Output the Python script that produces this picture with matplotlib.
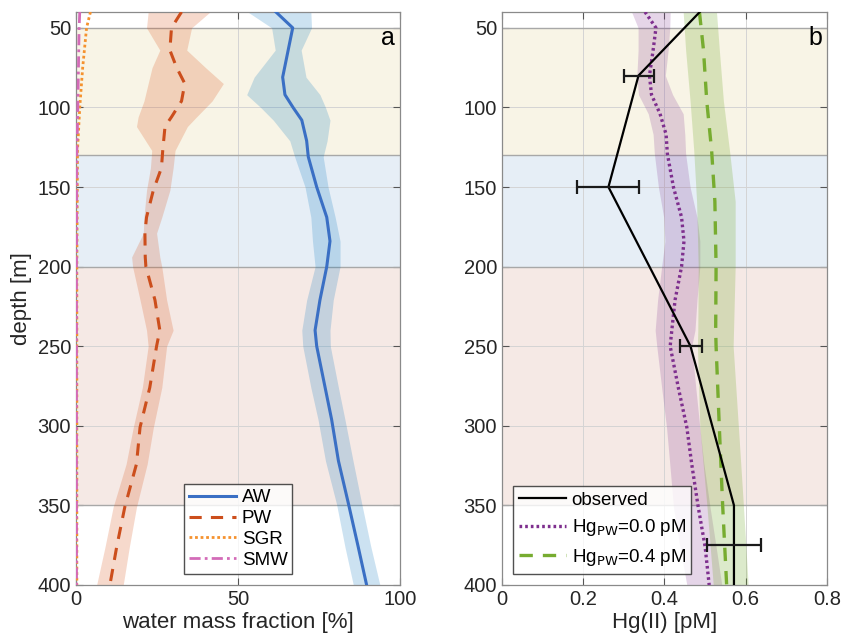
# -----------------------------------------------------------
# PERFILES DE MASAS DE AGUA Y Hg(II)
# -----------------------------------------------------------

import numpy as np
import matplotlib.pyplot as plt

plt.rcParams['font.family'] = ['Liberation Sans', 'DejaVu Sans']

# -----------------------------------------------------------
# DATOS PANEL a
# -----------------------------------------------------------

# AW (media y banda)
prof_aw = [40, 50, 64, 81, 92, 100, 108, 121, 131, 150, 169, 184, 200, 221, 240,
           250, 276, 296, 322, 349, 376, 400]
aw = [61.7, 66.9, 65.5, 63.8, 64.5, 67.0, 69.7, 71.2, 71.7, 74.3, 77.4, 78.4, 77.4,
      75.3, 73.8, 74.3, 76.9, 78.9, 81.0, 84.1, 87.1, 89.7]
aw_bajo = [53.0, 60.4, 61.5, 55.0, 52.7, 57.0, 60.9, 66.0, 67.5, 70.7, 72.5, 73.0, 73.8,
           71.2, 69.7, 70.0, 72.5, 74.7, 77.0, 80.4, 83.0, 85.6]
aw_alto = [72.5, 72.7, 69.5, 71.0, 75.3, 77.0, 78.4, 77.5, 76.3, 77.8, 80.0, 81.5, 81.5,
           79.4, 78.4, 78.5, 81.0, 83.0, 85.5, 88.2, 91.0, 93.8]

# PW (media y banda)
prof_pw = [40, 50, 64, 75, 85, 96, 106, 112, 127, 138, 152, 169, 179, 194, 200, 221, 240,
           250, 276, 301, 324, 351, 376, 400]
pw = [32.6, 29.5, 29.0, 31.1, 33.6, 32.6, 29.5, 27.5, 26.8, 26.4, 23.9, 21.8, 21.3,
      21.4, 21.6, 24.4, 25.9, 24.9, 22.8, 19.8, 18.7, 15.1, 12.6, 10.5]
pw_bajo = [22.3, 21.8, 25.9, 23.5, 22.3, 21.0, 19.2, 18.7, 23.4, 23.0, 21.8, 21.0, 20.8,
           17.2, 17.5, 19.8, 21.8, 22.3, 20.5, 17.7, 15.5, 11.5, 9.0, 6.4]
pw_alto = [41.4, 35.7, 34.2, 40.0, 45.5, 42.0, 37.2, 34.4, 30.6, 30.0, 29.0, 26.5, 24.9,
           25.9, 26.5, 28.0, 30.0, 28.0, 26.5, 23.9, 22.0, 18.7, 16.5, 14.6]

# SGR y SMW
prof_sgr = [40, 50, 75, 100, 127, 200, 400]
sgr = [4.5, 3.3, 2.1, 1.2, 0.5, 0.3, 0.3]
prof_smw = [40, 50, 100, 130, 200, 400]
smw = [1.2, 1.0, 0.6, 0.3, 0.2, 0.2]

# -----------------------------------------------------------
# DATOS PANEL b
# -----------------------------------------------------------

# Observado
prof_obs = [40, 80, 150, 250, 350, 400]
obs = [0.487, 0.336, 0.262, 0.464, 0.571, 0.571]
prof_err = [80, 150, 250, 375]
err_centro = [0.337, 0.262, 0.465, 0.571]
err_izq = [0.037, 0.077, 0.028, 0.066]
err_der = [0.037, 0.076, 0.028, 0.067]

# Hg_PW = 0.0 pM
prof_m0 = [40, 50, 64, 80, 92, 104, 117, 129, 150, 169, 184, 200, 221, 240,
           250, 276, 301, 324, 351, 376, 400]
m0 = [0.352, 0.379, 0.372, 0.363, 0.368, 0.389, 0.404, 0.407, 0.422, 0.442, 0.448,
      0.442, 0.426, 0.418, 0.414, 0.434, 0.455, 0.467, 0.483, 0.500, 0.510]
m0_bajo = [0.319, 0.335, 0.335, 0.332, 0.336, 0.360, 0.372, 0.375, 0.385, 0.398, 0.401,
           0.393, 0.383, 0.377, 0.381, 0.393, 0.405, 0.413, 0.422, 0.438, 0.455]
m0_alto = [0.414, 0.413, 0.409, 0.402, 0.420, 0.446, 0.450, 0.452, 0.463, 0.480, 0.487,
           0.487, 0.480, 0.475, 0.467, 0.477, 0.487, 0.497, 0.512, 0.527, 0.541]

# Hg_PW = 0.4 pM
prof_m4 = [40, 64, 96, 127, 159, 200, 240, 250, 301, 349, 400]
m4 = [0.486, 0.496, 0.504, 0.516, 0.524, 0.527, 0.526, 0.527, 0.535, 0.543, 0.553]
m4_bajo = [0.446, 0.452, 0.463, 0.472, 0.479, 0.483, 0.482, 0.481, 0.487, 0.504, 0.520]
m4_alto = [0.528, 0.535, 0.545, 0.560, 0.574, 0.574, 0.570, 0.569, 0.582, 0.594, 0.606]

# Franjas de fondo (profundidad inicial, final, color)
franjas = [(50, 130, '#f8f4e6'), (130, 200, '#e6eef6'), (200, 350, '#f5e9e5')]
limites = [50, 130, 200, 350]

# -----------------------------------------------------------
# FIGURA
# -----------------------------------------------------------

fig = plt.figure(figsize=(8.43, 6.41), dpi=100)
ax_a = fig.add_axes([0.090, 0.0874, 0.3845, 0.8940])
ax_b = fig.add_axes([0.5955, 0.0874, 0.3855, 0.8940])

for ax in [ax_a, ax_b]:
    for ini, fin, color in franjas:
        ax.axhspan(ini, fin, color=color, lw=0, zorder=0)
    for lim in limites:
        ax.axhline(lim, color='#a8a8a8', lw=1.0, zorder=1)
    ax.grid(True, color='#d4d4d4', lw=0.7, zorder=0.5)
    ax.set_axisbelow(True)
    ax.set_ylim(400, 40)
    ax.set_yticks([50, 100, 150, 200, 250, 300, 350, 400])
    ax.tick_params(direction='in', top=True, right=True, labelsize=14.5,
                   color='#555555', length=5, labelcolor='#262626')
    for s in ax.spines.values():
        s.set_color('#8a8a8a')
        s.set_linewidth(0.9)

# -----------------------------------------------------------
# PANEL a
# -----------------------------------------------------------

ax_a.fill_betweenx(prof_aw, aw_bajo, aw_alto, color='#0072BD', alpha=0.2, lw=0, zorder=2)
ax_a.fill_betweenx(prof_pw, pw_bajo, pw_alto, color='#D95319', alpha=0.22, lw=0, zorder=2)
ax_a.plot(aw, prof_aw, color='#3a6fc4', lw=2.2, label='AW', zorder=3)
ax_a.plot(pw, prof_pw, color='#cc4e1c', lw=2.2, ls=(0, (4, 3)), label='PW', zorder=3)
ax_a.plot(sgr, prof_sgr, color='#f5922e', lw=2, ls=(0, (1, 1)), label='SGR', zorder=3)
ax_a.plot(smw, prof_smw, color='#d36bb8', lw=2, ls=(0, (4, 1.5, 1, 1.5)), label='SMW', zorder=3)

ax_a.set_xlim(0, 100)
ax_a.set_xticks([0, 50, 100])
ax_a.set_xlabel('water mass fraction [%]', fontsize=16, color='#262626', labelpad=2)
ax_a.set_ylabel('depth [m]', fontsize=16, color='#262626', labelpad=4)
ax_a.text(0.985, 0.975, 'a', transform=ax_a.transAxes, ha='right', va='top', fontsize=18)
ax_a.legend(loc='lower left', bbox_to_anchor=(0.335, 0.02), fontsize=13.5, frameon=True,
            fancybox=False, edgecolor='#262626', handlelength=2.5, handletextpad=0.3,
            borderpad=0.25, labelspacing=0.2, borderaxespad=0)

# -----------------------------------------------------------
# PANEL b
# -----------------------------------------------------------

ax_b.fill_betweenx(prof_m0, m0_bajo, m0_alto, color='#7E2F8E', alpha=0.2, lw=0, zorder=2)
ax_b.fill_betweenx(prof_m4, m4_bajo, m4_alto, color='#77AC30', alpha=0.25, lw=0, zorder=2)
ax_b.plot(obs, prof_obs, color='black', lw=1.6, label='observed', zorder=4)
ax_b.errorbar(err_centro, prof_err, xerr=[err_izq, err_der], fmt='none', ecolor='#1a1a1a',
              elinewidth=1.6, capsize=5, capthick=1.6, zorder=4)
ax_b.plot(m0, prof_m0, color='#7E2F8E', lw=2.4, ls=(0, (0.8, 0.9)),
          label=r'Hg$_{\mathrm{PW}}$=0.0 pM', zorder=3)
ax_b.plot(m4, prof_m4, color='#77AC30', lw=2.4, ls=(0, (4, 3)),
          label=r'Hg$_{\mathrm{PW}}$=0.4 pM', zorder=3)

ax_b.set_xlim(0, 0.8)
ax_b.set_xticks([0, 0.2, 0.4, 0.6, 0.8])
ax_b.set_xticklabels(['0', '0.2', '0.4', '0.6', '0.8'])
ax_b.set_xlabel('Hg(II) [pM]', fontsize=16, color='#262626', labelpad=2)
ax_b.text(0.985, 0.975, 'b', transform=ax_b.transAxes, ha='right', va='top', fontsize=18)
ax_b.legend(loc='lower left', bbox_to_anchor=(0.035, 0.02), fontsize=13.5, frameon=True,
            fancybox=False, edgecolor='#262626', handlelength=2.5, handletextpad=0.3,
            borderpad=0.3, labelspacing=0.45, borderaxespad=0)

plt.savefig('out.png', dpi=100)
